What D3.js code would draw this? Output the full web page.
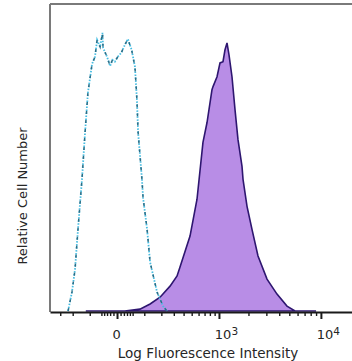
<!DOCTYPE html>
<html>
<head>
<meta charset="utf-8">
<script src="https://cdn.jsdelivr.net/npm/d3@7"></script>
<style>
  body { margin: 0; background: #fff; }
  text { font-family: "DejaVu Sans", Verdana, sans-serif; fill: #262626; }
</style>
</head>
<body>
<svg width="352" height="361"></svg>
<script>
// control (isotype) histogram - fluorescence value / relative count
const controlX = [-234, -205, -184, -165, -141, -124, -109, -89, -76, -67, -55, -46, -44, -30, -20, -13, -6, 2, 12, 23, 33, 46, 51, 59, 67, 72, 89, 94, 114, 130, 171, 212, 242];
const controlY = [0, 6.2, 13.6, 26.6, 42.9, 58.1, 71.1, 80.5, 82.8, 88.3, 86.0, 90.6, 85.8, 82.8, 79.8, 81.8, 81.2, 82.8, 84.1, 86.7, 88.6, 85.1, 83.0, 79.5, 68.8, 58.1, 42.9, 37, 26.6, 15.9, 6.2, 1.6, 0];

// stained sample histogram
const sampleX = [-120, 23, 80, 130, 191, 267, 331, 361, 478, 576, 672, 745, 843, 865, 954, 1026, 1102, 1157, 1213, 1272, 1365, 1465, 1571, 1724, 1765, 1935, 2168, 2485, 3045, 3805, 4750, 5669, 9000];
const sampleY = [0, 0, 0.6, 2.3, 4.5, 8.1, 11.4, 14.3, 24.4, 36.4, 54.9, 61.4, 72.1, 73.1, 76.3, 80.8, 81.2, 85.1, 87.3, 83.4, 76.3, 65.6, 55.8, 47.1, 42.9, 34.1, 26.6, 17.9, 10.4, 5.5, 1.6, 0, 0];

const majorTicks = [0, 1000, 10000];
const majorLabels = [["0", ""], ["10", "3"], ["10", "4"]];
const minorTicks = [-300, -200, -100, -50, -40, -30, -20, -10, 10, 20, 30, 40, 50,
  100, 200, 300, 400, 500, 600, 700, 800, 900,
  2000, 3000, 4000, 5000, 6000, 7000, 8000, 9000, 20000];

const svg = d3.select('svg');
const margin = { top: 4, right: 0, bottom: 49, left: 50 };
const width = 352 - margin.left - margin.right;
const height = 361 - margin.top - margin.bottom;

const x = d3.scaleSymlog().constant(125).domain([-405, 19670]).range([margin.left, margin.left + width]);
const y = d3.scaleLinear().domain([0, 100]).range([margin.top + height - 1, margin.top]);

const control = controlX.map((v, i) => [v, controlY[i]]);
const sample = sampleX.map((v, i) => [v, sampleY[i]]);

// filled sample histogram
svg.append('path')
  .datum(sample)
  .attr('fill', '#b88de6')
  .attr('stroke', '#2e1670')
  .attr('stroke-width', 1.6)
  .attr('d', d3.area().x(d => x(d[0])).y0(y(0)).y1(d => y(d[1])));

// control histogram, dash-dot
const line = d3.line().x(d => x(d[0])).y(d => y(d[1]));
svg.append('path')
  .datum(control)
  .attr('fill', 'none')
  .attr('stroke', '#45bde2')
  .attr('stroke-width', 1.8)
  .attr('stroke-dasharray', '1.5,1.5')
  .attr('d', line);
svg.append('path')
  .datum(control)
  .attr('fill', 'none')
  .attr('stroke', '#2c6d85')
  .attr('stroke-width', 1.5)
  .attr('stroke-dasharray', '3,6')
  .attr('d', line);

// frame: left and top
svg.append('line')
  .attr('x1', margin.left).attr('x2', margin.left)
  .attr('y1', margin.top).attr('y2', margin.top + height)
  .attr('stroke', '#7a7a7a').attr('stroke-width', 2);
svg.append('line')
  .attr('x1', margin.left).attr('x2', 352)
  .attr('y1', margin.top).attr('y2', margin.top)
  .attr('stroke', '#7a7a7a').attr('stroke-width', 2);

// x axis
const axisY = margin.top + height;
svg.append('g')
  .attr('transform', 'translate(0,' + axisY + ')')
  .call(d3.axisBottom(x).tickValues(minorTicks).tickSize(4).tickSizeOuter(0).tickFormat(''))
  .call(g => g.select('.domain').attr('stroke', '#1a1a1a').attr('stroke-width', 1.8))
  .call(g => g.selectAll('.tick line').attr('stroke', '#1a1a1a').attr('stroke-width', 1.4));

const major = svg.append('g')
  .attr('transform', 'translate(0,' + axisY + ')')
  .call(d3.axisBottom(x).tickValues(majorTicks).tickSize(7).tickSizeOuter(0).tickPadding(11).tickFormat(''))
  .call(g => g.select('.domain').remove())
  .call(g => g.selectAll('.tick line').attr('stroke', '#1a1a1a').attr('stroke-width', 2));

major.selectAll('.tick text')
  .attr('font-size', 13)
  .attr('dx', (d, i) => i === 0 ? -1 : 7)
  .each(function(d, i) {
    const t = d3.select(this);
    t.append('tspan').text(majorLabels[i][0]);
    if (majorLabels[i][1]) {
      t.append('tspan').attr('dy', '-0.45em').attr('font-size', 10.5).text(majorLabels[i][1]);
    }
  });

svg.append('text')
  .attr('x', 208).attr('y', 357.5)
  .attr('text-anchor', 'middle')
  .attr('font-size', 13.5)
  .text('Log Fluorescence Intensity');

svg.append('text')
  .attr('transform', 'translate(27,196) rotate(-90)')
  .attr('text-anchor', 'middle')
  .attr('font-size', 13)
  .text('Relative Cell Number');
</script>
</body>
</html>
